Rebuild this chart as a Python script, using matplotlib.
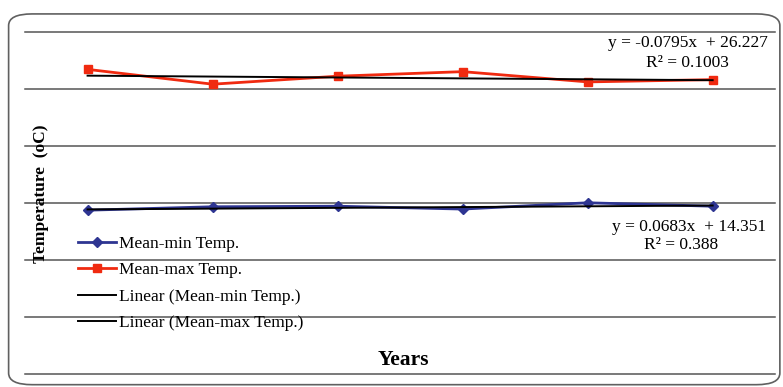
import matplotlib
matplotlib.use('Agg')
import matplotlib.pyplot as plt
from matplotlib.patches import FancyBboxPatch

# data (years 1..6)
years = [1, 2, 3, 4, 5, 6]
mean_min = [14.35, 14.65, 14.7, 14.45, 15.0, 14.7]
mean_max = [26.7, 25.4, 26.1, 26.5, 25.6, 25.8]

# trend line coefficients shown on the chart
min_slope, min_icpt, min_r2 = 0.0683, 14.351, 0.388
max_slope, max_icpt, max_r2 = -0.0795, 26.227, 0.1003

plt.rcParams['font.family'] = ['Liberation Serif', 'DejaVu Serif']

fig = plt.figure(figsize=(7.83, 3.87), dpi=100)
ax = fig.add_axes([0.032, 0.034, 0.958, 0.884])

# outer rounded frame
frame = FancyBboxPatch((0.011, 0.006), 0.985, 0.958, transform=fig.transFigure,
                       boxstyle='round,pad=0,rounding_size=0.03',
                       fc='none', ec='#606060', lw=1.2)
fig.patches.append(frame)

ax.set_xlim(0.5, 6.5)
ax.set_ylim(0, 30)
ax.set_yticks(range(0, 31, 5))
ax.yaxis.grid(True, color='#555555', lw=1.1)
for gl in ax.get_ygridlines():
    gl.set_clip_on(False)
ax.set_axisbelow(True)
for s in ax.spines.values():
    s.set_visible(False)
ax.tick_params(left=False, bottom=False, labelleft=False, labelbottom=False)

ax.plot(years, mean_min, color='#2e3592', lw=2, marker='D', ms=5, label='Mean-min Temp.')
ax.plot(years, mean_max, color='#f02a10', lw=2, marker='s', ms=6, label='Mean-max Temp.')
ax.plot(years, [min_slope * x + min_icpt for x in years], color='black', lw=1.4,
        label='Linear (Mean-min Temp.)')
ax.plot(years, [max_slope * x + max_icpt for x in years], color='black', lw=1.4,
        label='Linear (Mean-max Temp.)')

ax.text(6.44, 29.0, f'y = {max_slope}x  + {max_icpt}', ha='right', va='center', fontsize=12.5)
ax.text(5.8, 27.3, f'R² = {max_r2}', ha='center', va='center', fontsize=12.5)
ax.text(6.43, 12.9, f'y = {min_slope}x  + {min_icpt}', ha='right', va='center', fontsize=12.5)
ax.text(5.75, 11.3, f'R² = {min_r2}', ha='center', va='center', fontsize=12.5)

ax.legend(loc='upper left', bbox_to_anchor=(0.05, 0.45), frameon=False, fontsize=12.5,
          labelspacing=0.6, handlelength=2.2, handletextpad=0.15)

fig.text(0.053, 0.50, 'Temperature  (oC)', rotation=90, ha='center', va='center',
         fontsize=12.5, fontweight='bold')
fig.text(0.515, 0.07, 'Years', ha='center', va='center', fontsize=15.5, fontweight='bold')

fig.savefig('out.png', dpi=100)
